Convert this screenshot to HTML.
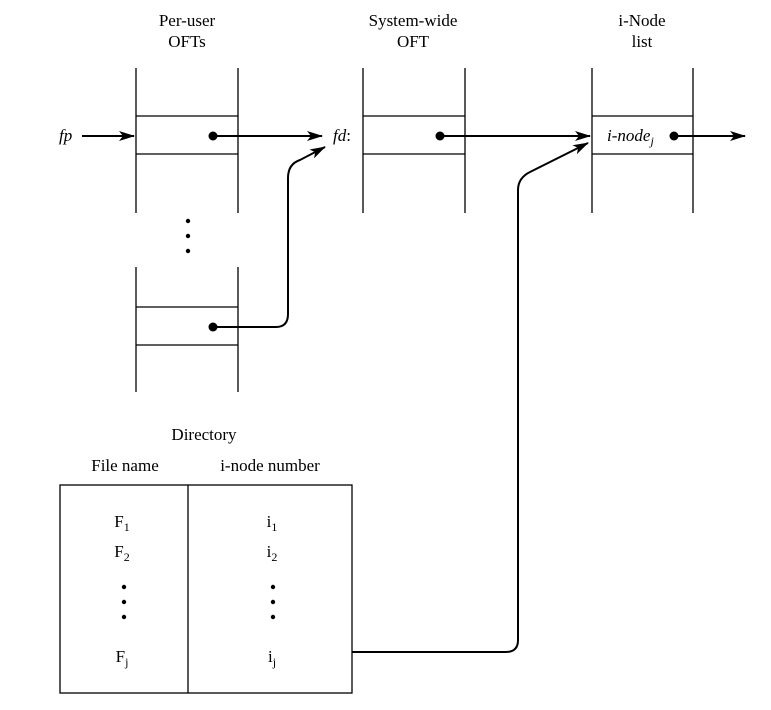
<!DOCTYPE html>
<html><head><style>body{margin:0;background:#fff}svg{display:block}</style></head><body>
<svg width="771" height="710" viewBox="0 0 771 710" xmlns="http://www.w3.org/2000/svg" font-family="Liberation Serif, serif" font-size="17">
<defs><marker id="a" markerWidth="16" markerHeight="10" refX="15" refY="5" orient="auto" markerUnits="userSpaceOnUse"><path d="M0,0 L16,5 L0,10 L4,5 Z" fill="#000"/></marker></defs>
<g stroke="#000" stroke-width="1.3" fill="none">
<line x1="136" y1="68" x2="136" y2="213"/><line x1="238" y1="68" x2="238" y2="213"/>
<line x1="136" y1="116" x2="238" y2="116"/><line x1="136" y1="154" x2="238" y2="154"/>
<line x1="136" y1="267" x2="136" y2="392"/><line x1="238" y1="267" x2="238" y2="392"/>
<line x1="136" y1="307" x2="238" y2="307"/><line x1="136" y1="345" x2="238" y2="345"/>
<line x1="363" y1="68" x2="363" y2="213"/><line x1="465" y1="68" x2="465" y2="213"/>
<line x1="363" y1="116" x2="465" y2="116"/><line x1="363" y1="154" x2="465" y2="154"/>
<line x1="592" y1="68" x2="592" y2="213"/><line x1="693" y1="68" x2="693" y2="213"/>
<line x1="592" y1="116" x2="693" y2="116"/><line x1="592" y1="154" x2="693" y2="154"/>
<rect x="60" y="485" width="292" height="208"/><line x1="188" y1="485" x2="188" y2="693"/>
</g>
<g stroke="#000" stroke-width="2" fill="none" marker-end="url(#a)">
<line x1="82" y1="136" x2="134" y2="136"/>
<line x1="213" y1="136" x2="322" y2="136"/>
<line x1="440" y1="136" x2="590" y2="136"/>
<line x1="674" y1="136" x2="745" y2="136"/>
<path d="M213,327 H276 Q288,327 288,314 V178 Q288,164 300,160 L325,147"/>
<path d="M352,652 H506 Q518,652 518,640 V190 Q518,178 530,172 L588,143"/>
</g>
<g fill="#000">
<circle cx="213" cy="136" r="4.5"/><circle cx="440" cy="136" r="4.5"/><circle cx="674" cy="136" r="4.5"/><circle cx="213" cy="327" r="4.5"/>
<circle cx="188" cy="221" r="2.2"/><circle cx="188" cy="236" r="2.2"/><circle cx="188" cy="251" r="2.2"/>
<circle cx="124" cy="587" r="2.2"/><circle cx="124" cy="602" r="2.2"/><circle cx="124" cy="617" r="2.2"/>
<circle cx="273" cy="587" r="2.2"/><circle cx="273" cy="602" r="2.2"/><circle cx="273" cy="617" r="2.2"/>
</g>
<g text-anchor="middle">
<text x="187" y="26">Per-user</text><text x="187" y="47">OFTs</text>
<text x="413" y="26">System-wide</text><text x="413" y="47">OFT</text>
<text x="642" y="26">i-Node</text><text x="642" y="47">list</text>
<text x="204" y="440">Directory</text>
<text x="125" y="471">File name</text><text x="270" y="471">i-node number</text>
<text x="122" y="527">F<tspan font-size="12" dy="4">1</tspan></text>
<text x="122" y="557">F<tspan font-size="12" dy="4">2</tspan></text>
<text x="122" y="662">F<tspan font-size="12" dy="4">j</tspan></text>
<text x="272" y="527">i<tspan font-size="12" dy="4">1</tspan></text>
<text x="272" y="557">i<tspan font-size="12" dy="4">2</tspan></text>
<text x="272" y="662">i<tspan font-size="12" dy="4">j</tspan></text>
</g>
<text x="59" y="141" font-style="italic">fp</text>
<text x="333" y="141" font-style="italic">fd<tspan font-style="normal">:</tspan></text>
<text x="607" y="141" font-style="italic">i-node<tspan font-size="12" dy="4">j</tspan></text>
</svg>
</body></html>
